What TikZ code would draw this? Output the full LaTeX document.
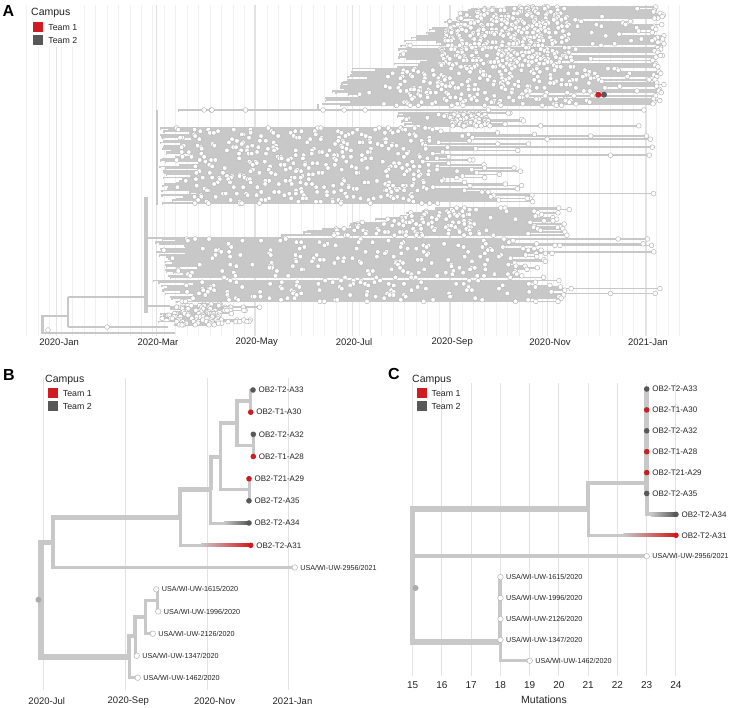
\documentclass[tikz,border=0pt]{standalone}
\usepackage{fontspec}
\setmainfont{Liberation Sans}
\usetikzlibrary{calc,positioning}

\definecolor{branch}{RGB}{200,200,200}
\definecolor{teamone}{RGB}{208,28,32}
\definecolor{teamtwo}{RGB}{88,88,88}
\definecolor{gridc}{RGB}{226,226,226}
\definecolor{gridm}{RGB}{240,240,240}
\definecolor{tipedge}{RGB}{178,178,178}
\definecolor{rootc}{RGB}{172,172,172}
\definecolor{txt}{RGB}{35,35,35}

\pgfdeclarelayer{grid}
\pgfdeclarelayer{bg}
\pgfsetlayers{grid,bg,main}

\tikzset{
  abr/.style={branch, line width=1.45pt},
  atip/.style={fill=white, draw=tipedge, line width=0.45pt},
  tip/.style={circle, inner sep=0pt, minimum size=5.6pt},
  tipr/.style={tip, fill=teamone},
  tipd/.style={tip, fill=teamtwo},
  tipw/.style={tip, fill=white, draw=tipedge, line width=0.5pt},
  rootmk/.style={circle, inner sep=0pt, minimum size=6pt, fill=rootc},
  oblab/.style={font=\fontsize{8}{9}\selectfont, text=txt, inner sep=0pt},
  usalab/.style={font=\fontsize{7.2}{8}\selectfont, text=txt, inner sep=0pt},
  axlab/.style={font=\fontsize{9.5}{11}\selectfont, text=txt, inner sep=0pt},
  panel/.style={font=\fontsize{16}{18}\selectfont\bfseries, inner sep=0pt},
  legtitle/.style={font=\fontsize{10.5}{12}\selectfont, text=txt, anchor=west, inner sep=0pt},
  legtext/.style={font=\fontsize{8.8}{10}\selectfont, text=txt, inner sep=0pt},
  legbox/.style={minimum size=10pt, inner sep=0pt},
}

\begin{document}
\begin{tikzpicture}[x=1pt,y=-1pt]
\useasboundingbox (0,0) rectangle (730,708);

%% ---------- panel A: time tree
\begin{pgfonlayer}{grid}
\foreach \gx in {26.7,38.15,...,690}
  \draw[gridm, line width=0.5pt] (\gx,5) -- (\gx,336);
\foreach \gx in {56.7,156.7,255,352.3,450,547.7,646}
  \draw[gridc, line width=1.2pt] (\gx,5) -- (\gx,336);
\end{pgfonlayer}
\foreach \gx/\m [count=\k] in {59.2/2020-Jan,158/2020-Mar,256.7/2020-May,354/2020-Jul,452.2/2020-Sep,550/2020-Nov,647.8/2021-Jan}
  \node[axlab] (ax\k) at (\gx,342) {\m};

% backbone
\begin{pgfonlayer}{bg}
\draw[branch, line width=2.5pt] (157,110) -- (157,205);
\draw[branch, line width=3.5pt] (146,197) -- (146,313);
\draw[branch, line width=1.5pt] (146,238) -- (282,238) -- (282,234);
\draw[branch, line width=1.5pt] (146,306) -- (170,306);
\draw[branch, line width=1.5pt] (318,104) -- (318,110);
\draw[branch, line width=3pt] (42,315) -- (42,334);
\draw[branch, line width=2pt] (42,316) -- (68,316);
\draw[branch, line width=2pt] (68,297) -- (68,327);
\draw[branch, line width=1.5pt] (68,297) -- (146,297);
\draw[branch, line width=1.5pt] (68,327) -- (168,327);
\draw[branch, line width=2pt] (42,333) -- (175,333);
\end{pgfonlayer}
\filldraw[atip] (107,327) circle (2.4pt);
\filldraw[atip] (48,330) circle (2.4pt);

% clades: top/bottom, left edge top/bottom, tip range, far share, far tip, dense range, dense count, spread count
\pgfmathsetseed{11}
\foreach \yt/\yb/\xlt/\xlb/\xra/\xrb/\pf/\xf/\bxa/\bxb/\nbb/\nuu in {
  7/46/470/395/560/645/0.6/664/445/570/12/2,
  47.6/67/398/392/540/620/0.5/664/440/575/12/2,
  68.6/106/352/316/520/625/0.45/664/400/600/7/3,
  110/110/157/157/640/648/1/650/180/240/3/5,
  113/126/393/405/470/545/0.15/645/445/490/9/1,
  128/204/160/160/420/535/0.12/656/175/430/7/2,
  208/236/433/280/525/570/0.05/600/330/480/7/2,
  239/279/150/165/500/565/0.1/655/170/560/4/3,
  280.6/302/152/172/520/565/0.2/664/180/480/6/2,
  304/326/168/150/205/262/0/260/167/250/10/1}{
  \pgfmathtruncatemacro\nl{(\yb-\yt)/1.6}
  \pgfmathtruncatemacro\nd{max(\nl,1)}
  \foreach \i in {0,...,\nl}{
    \pgfmathsetmacro\y{\yt+\i*1.6}
    \pgfmathsetmacro\xl{\xlt+(\xlb-\xlt)*\i/\nd+6*rnd+40*rnd^4}
    \pgfmathsetmacro\xr{rnd<\pf ? \xf-12*rnd : \xra+(\xrb-\xra)*rnd}
    \begin{pgfonlayer}{bg}
      \draw[abr] (\xl,\y+1.6) -- (\xl,\y) -- (\xr,\y);
    \end{pgfonlayer}
    \filldraw[atip] (\xr,\y) circle (2.4pt);
    \pgfmathsetmacro\alo{max(\bxa,\xl+3)}
    \pgfmathsetmacro\ahi{min(\bxb,\xr)}
    \pgfmathtruncatemacro\cb{\ahi>\alo ? round(\nbb*(\ahi-\alo)/(\bxb-\bxa)) : 0}
    \ifnum\cb>0
      \foreach \k in {1,...,\cb}{
        \pgfmathsetmacro\cx{\alo+(\ahi-\alo)*rnd}
        \filldraw[atip] (\cx,\y) circle (2.4pt);
      }
    \fi
    \foreach \k in {1,...,\nuu}{
      \pgfmathsetmacro\cx{\xl+(\xr-\xl)*rnd}
      \filldraw[atip] (\cx,\y) circle (2.4pt);
    }
  }
}
\node[tipr, minimum size=6pt] (aone) at (598.3,94.7) {};
\node[tipd, minimum size=6pt] (atwo) at (604,94.7) {};

% legend A
\fill[white] (29,2) rectangle (82,47);
\node[panel] (pA) at (8.5,11) {A};
\node[legtitle] (legA) at (31,13) {Campus};
\node[legbox, fill=teamone] (legA1) at (38.3,27.3) {};
\node[legtext, right=4.7pt of legA1] (legA1t) {Team 1};
\node[legbox, fill=teamtwo] (legA2) at (38.3,40) {};
\node[legtext, right=4.7pt of legA2] (legA2t) {Team 2};

%% ---------- panel B: time tree of the cluster
\begin{pgfonlayer}{grid}
\foreach \gx in {43,125,207,288.5}
  \draw[gridc, line width=1pt] (\gx,378) -- (\gx,690);
\end{pgfonlayer}
\foreach \gx/\m [count=\k] in {46.7/2020-Jul,128.3/2020-Sep,214.7/2020-Nov,292.5/2021-Jan}
  \node[axlab] (bx\k) at (\gx,701.5) {\m};

\node[panel] (pB) at (9,375) {B};
\node[legtitle] (legB) at (45,380) {Campus};
\node[legbox, fill=teamone] (legB1) at (53,393.3) {};
\node[legtext, right=4.5pt of legB1] (legB1t) {Team 1};
\node[legbox, fill=teamtwo] (legB2) at (53,406.3) {};
\node[legtext, right=4.5pt of legB2] (legB2t) {Team 2};

\foreach \n/\x/\y/\s/\l/\t in {
  b33/253/390/tipd/oblab/OB2-T2-A33,
  b30/250.7/412.2/tipr/oblab/OB2-T1-A30,
  b32/253.3/434.3/tipd/oblab/OB2-T2-A32,
  b28/253.3/456.5/tipr/oblab/OB2-T1-A28,
  b29/249/478.7/tipr/oblab/OB2-T21-A29,
  b35/249/500.8/tipd/oblab/OB2-T2-A35,
  b34/249/523/tipd/oblab/OB2-T2-A34,
  b31/250.7/545.3/tipr/oblab/OB2-T2-A31,
  b2956/294.7/567.5/tipw/usalab/{USA/WI-UW-2956/2021},
  b1615/156.3/589.3/tipw/usalab/{USA/WI-UW-1615/2020},
  b1996/158.3/611.5/tipw/usalab/{USA/WI-UW-1996/2020},
  b2126/152.7/633.7/tipw/usalab/{USA/WI-UW-2126/2020},
  b1347/136.7/655.7/tipw/usalab/{USA/WI-UW-1347/2020},
  b1462/137.7/677.7/tipw/usalab/{USA/WI-UW-1462/2020}}{
  \node[\s] (\n) at (\x,\y) {};
  \node[\l, right=2.4pt of \n] (l\n) {\t};
}
\coordinate (bn1) at (250,401);
\coordinate (bn2) at (253,445.4);
\coordinate (bn3) at (237,423.2);
\coordinate (bn4) at (249,489.7);
\coordinate (bn5) at (220.7,456.5);
\coordinate (bn6) at (210.7,489.7);
\coordinate (bn7) at (180,517.5);
\coordinate (bn8) at (53,542.5);
\coordinate (broot) at (41,599.7);
\coordinate (bn9) at (157,600.4);
\coordinate (bn10) at (145,617);
\coordinate (bn11) at (135,636.4);
\coordinate (bn12) at (129,657);
\node[rootmk] (brm) at (38.5,599.7) {};

\begin{pgfonlayer}{bg}
\foreach \p/\c/\w in {broot/bn8/5.5, broot/bn12/5.5, bn8/bn7/4.5, bn8/b2956/3.5,
    bn7/bn6/4.5, bn7/b31/3, bn6/bn5/4, bn6/b34/3, bn5/bn3/3.5, bn5/bn4/3.5,
    bn3/bn1/3.5, bn3/bn2/3.5, bn1/b33/3, bn1/b30/3, bn2/b32/3, bn2/b28/3,
    bn4/b29/3, bn4/b35/3, bn12/bn11/4, bn12/b1462/3, bn11/bn10/3.5,
    bn11/b1347/3, bn10/bn9/3, bn10/b2126/3, bn9/b1615/3, bn9/b1996/3}
  \draw[branch, line width=\w pt] (\p.center) |- (\c.center);
\shade[left color=branch, right color=teamone]
  ($(bn7|-b31)!0.3!(b31)+(0,-1.5)$) rectangle ($(b31)+(0,1.5)$);
\shade[left color=branch, right color=teamtwo]
  ($(bn6|-b34)!0.35!(b34)+(0,-1.5)$) rectangle ($(b34)+(0,1.5)$);
\end{pgfonlayer}

%% ---------- panel C: divergence tree of the cluster
\begin{pgfonlayer}{grid}
\foreach \m in {15,...,24}
  \draw[gridc, line width=1pt] ({412.7+(\m-15)*29.25},383) -- ({412.7+(\m-15)*29.25},676);
\end{pgfonlayer}
\foreach \m in {15,...,24}
  \node[axlab, font=\fontsize{10}{12}\selectfont] (cx\m) at ({412.7+(\m-15)*29.25},685) {\m};
\node[axlab, font=\fontsize{10.5}{12}\selectfont] (cxl) at (544,699.5) {Mutations};

\node[panel] (pC) at (394,374) {C};
\node[legtitle] (legC) at (412,380) {Campus};
\node[legbox, fill=teamone] (legC1) at (421.7,393.3) {};
\node[legtext, right=4.5pt of legC1] (legC1t) {Team 1};
\node[legbox, fill=teamtwo] (legC2) at (421.7,406.3) {};
\node[legtext, right=4.5pt of legC2] (legC2t) {Team 2};

\foreach \n/\x/\y/\s/\l/\t in {
  c33/646.7/389/tipd/oblab/OB2-T2-A33,
  c30/646.7/409.9/tipr/oblab/OB2-T1-A30,
  c32/646.7/430.8/tipd/oblab/OB2-T2-A32,
  c28/646.7/451.7/tipr/oblab/OB2-T1-A28,
  c29/646.7/472.6/tipr/oblab/OB2-T21-A29,
  c35/646.7/493.5/tipd/oblab/OB2-T2-A35,
  c34/675.95/514.4/tipd/oblab/OB2-T2-A34,
  c31/675.95/535.3/tipr/oblab/OB2-T2-A31,
  c2956/646.7/556.2/tipw/usalab/{USA/WI-UW-2956/2021},
  c1615/500.45/577.1/tipw/usalab/{USA/WI-UW-1615/2020},
  c1996/500.45/598/tipw/usalab/{USA/WI-UW-1996/2020},
  c2126/500.45/618.9/tipw/usalab/{USA/WI-UW-2126/2020},
  c1347/500.45/639.8/tipw/usalab/{USA/WI-UW-1347/2020},
  c1462/529.7/660.7/tipw/usalab/{USA/WI-UW-1462/2020}}{
  \node[\s] (\n) at (\x,\y) {};
  \node[\l, right=2.4pt of \n] (l\n) {\t};
}
\coordinate (cn1) at (646.7,483);
\coordinate (cn2) at (588.2,509);
\coordinate (croot) at (412.7,576);
\coordinate (cn3) at (500.45,642);
\node[rootmk] (crm) at (415.5,588) {};

\begin{pgfonlayer}{bg}
\foreach \p/\c/\w in {croot/cn2/5.5, croot/c2956/3.5, croot/cn3/5.5,
    cn2/cn1/4.5, cn2/c31/3, cn1/c33/5, cn1/c30/5, cn1/c32/5, cn1/c28/5,
    cn1/c29/5, cn1/c35/5, cn1/c34/4, cn3/c1615/4, cn3/c1996/4, cn3/c2126/4,
    cn3/c1347/4, cn3/c1462/3}
  \draw[branch, line width=\w pt] (\p.center) |- (\c.center);
\draw[branch, line width=5.5pt] (croot) -- (croot|-cn2);
\shade[left color=branch, right color=teamone]
  ($(cn2|-c31)!0.4!(c31)+(0,-1.5)$) rectangle ($(c31)+(0,1.5)$);
\shade[left color=branch, right color=teamtwo]
  ($(cn1|-c34)!0.15!(c34)+(0,-2)$) rectangle ($(c34)+(0,2)$);
\end{pgfonlayer}
\end{tikzpicture}
\end{document}
